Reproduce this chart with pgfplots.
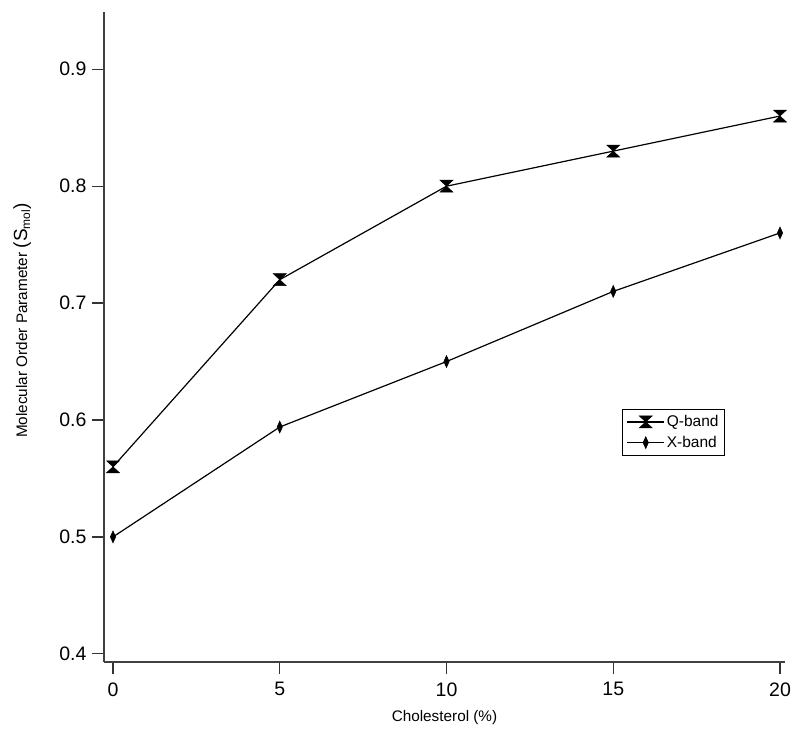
\documentclass[border=0pt]{standalone}
\usepackage{fontspec}
\setmainfont{Liberation Sans}
\usepackage{pgfplots}
\pgfplotsset{compat=1.18}
\pgfdeclareplotmark{hourglass}{%
  \pgfpathmoveto{\pgfqpoint{-6.5pt}{6pt}}%
  \pgfpathlineto{\pgfqpoint{6.5pt}{6pt}}%
  \pgfpathlineto{\pgfqpoint{-6.5pt}{-6pt}}%
  \pgfpathlineto{\pgfqpoint{6.5pt}{-6pt}}%
  \pgfpathclose
  \pgfusepathqfillstroke}
\begin{document}
\begin{tikzpicture}[x=1pt,y=1pt]
\path[use as bounding box] (-104,-78) rectangle (696,662);
\begin{axis}[
  at={(0,0)}, anchor=south west,
  scale only axis, width=681pt, height=650pt,
  xmin=-0.27, xmax=20.15, ymin=0.393, ymax=0.949,
  axis x line*=bottom, axis y line*=left,
  axis line style={black!75, line width=1.6pt},
  tick align=outside, major tick length=12pt,
  tick style={black!80, line width=1.2pt},
  xtick={0,5,10,15,20}, ytick={0.4,0.5,0.6,0.7,0.8,0.9},
  yticklabel style={/pgf/number format/fixed, /pgf/number format/precision=1, /pgf/number format/fixed zerofill, font=\fontsize{19.5}{22}\selectfont, xshift=-2pt},
  xticklabel style={font=\fontsize{19.5}{22}\selectfont, yshift=-5pt},
  /pgf/number format/assume math mode=true,
  xlabel={Cholesterol (\%)},
  ylabel={Molecular Order Parameter {\fontsize{19}{22}\selectfont(S}\raisebox{-3pt}{\fontsize{12}{14}\selectfont mol}{\fontsize{19}{22}\selectfont)}},
  label style={font=\fontsize{15.3}{18}\selectfont},
  xlabel style={at={(axis description cs:0.5,-0.086)}, anchor=center},
  ylabel style={at={(axis description cs:-0.12,0.525)}, anchor=center},
  legend style={at={(rel axis cs:0.761,0.389)}, anchor=north west, draw=black, line width=0.8pt, font=\fontsize{15.5}{18}\selectfont, row sep=4pt, inner xsep=4pt, inner ysep=4pt},
  legend cell align=left,
  legend image code/.code={\draw[#1] (0pt,0pt) -- (37pt,0pt); \draw[#1,only marks] plot coordinates {(18.5pt,0pt)};},
]
\addplot[black, line width=1.2pt, mark=hourglass, mark options={solid, line width=0.5pt}] coordinates {
(0,0.56) (5,0.72) (10,0.80) (15,0.83) (20,0.86)};
\addlegendentry{Q-band}
\addplot[black, line width=1.2pt, mark=diamond*, mark size=6pt, mark options={solid, xscale=0.6, line width=0.5pt}] coordinates {
(0,0.50) (5,0.594) (10,0.65) (15,0.71) (20,0.76)};
\addlegendentry{X-band}
\end{axis}
\end{tikzpicture}
\end{document}
